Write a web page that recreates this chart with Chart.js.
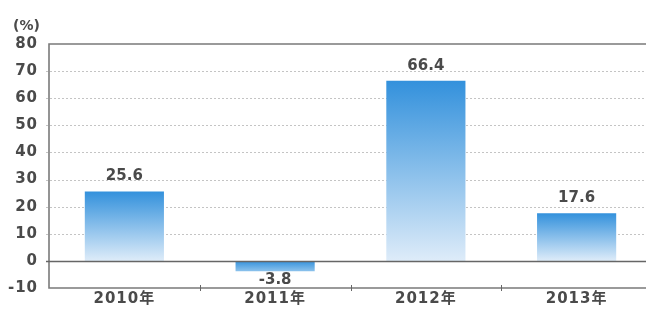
<!DOCTYPE html>
<html>
<head>
<meta charset="utf-8">
<script src="https://cdn.jsdelivr.net/npm/chart.js@4"></script>
<style>
  html, body { margin: 0; padding: 0; background: #fff; overflow: hidden; }
  #wrap { width: 660px; height: 309px; }
</style>
</head>
<body>
<div id="wrap"><canvas id="chart"></canvas></div>
<script>
const years = ['2010年', '2011年', '2012年', '2013年'];
const growth = [25.6, -3.8, 66.4, 17.6];
const yMin = -10;
const yMax = 80;
const yStep = 10;
const unitLabel = '(%)';

const FONT = "'DejaVu Sans', 'Noto Sans CJK JP', sans-serif";
const TEXT = '#4a4a4a';

// gradient per bar, dark at top -> light at bottom
function barFill(ctx) {
  const chart = ctx.chart;
  const area = chart.chartArea;
  if (!area || ctx.type !== 'data') return '#4a9ee0';
  const y = chart.scales.y;
  const v = ctx.raw;
  const top = y.getPixelForValue(Math.max(v, 0));
  const bot = y.getPixelForValue(Math.min(v, 0));
  const g = chart.ctx.createLinearGradient(0, top, 0, bot);
  g.addColorStop(0, '#3391dc');
  g.addColorStop(1, v < 0 ? '#8cc2ec' : '#deecf9');
  return g;
}

const frame = {
  id: 'frame',
  beforeDraw(chart) {
    chart.ctx.letterSpacing = '1px';
  },
  beforeDatasetsDraw(chart) {
    const { ctx, chartArea: a, scales: { y } } = chart;
    ctx.save();
    // dotted grid lines
    for (const t of y.ticks) {
      if (t.value === yMin || t.value === yMax || t.value === 0) continue;
      const py = Math.round(y.getPixelForValue(t.value)) + 0.5;
      ctx.strokeStyle = '#c4c4c4';
      ctx.lineWidth = 1;
      ctx.setLineDash([2, 2]);
      ctx.beginPath();
      ctx.moveTo(a.left - 3, py);
      ctx.lineTo(a.right, py);
      ctx.stroke();
    }
    ctx.setLineDash([]);
    ctx.restore();
  },
  afterDatasetsDraw(chart) {
    const { ctx, chartArea: a, scales: { x, y } } = chart;
    ctx.save();
    ctx.strokeStyle = '#7a7a7a';
    ctx.lineWidth = 1.6;
    ctx.beginPath();
    ctx.moveTo(a.right, a.top);
    ctx.lineTo(a.left, a.top);
    ctx.lineTo(a.left, a.bottom);
    ctx.lineTo(a.right, a.bottom);
    ctx.stroke();
    // zero line
    const z = Math.round(y.getPixelForValue(0)) + 0.5;
    ctx.strokeStyle = '#666';
    ctx.beginPath();
    ctx.moveTo(a.left - 3, z);
    ctx.lineTo(a.right, z);
    ctx.stroke();
    // small ticks between categories
    ctx.lineWidth = 1;
    for (let i = 1; i < years.length; i++) {
      const px = Math.round((x.getPixelForValue(i - 1) + x.getPixelForValue(i)) / 2) + 0.5;
      ctx.beginPath();
      ctx.moveTo(px, a.bottom - 3);
      ctx.lineTo(px, a.bottom + 3);
      ctx.stroke();
    }
    // value labels
    ctx.letterSpacing = '0px';
    ctx.fillStyle = TEXT;
    ctx.font = 'bold 15px ' + FONT;
    ctx.textAlign = 'center';
    ctx.textBaseline = 'middle';
    const meta = chart.getDatasetMeta(0);
    meta.data.forEach((bar, i) => {
      const v = growth[i];
      const off = v >= 0 ? -15 : 9;
      ctx.fillText(v.toFixed(1), bar.x, bar.y + off);
    });
    // unit label
    ctx.textAlign = 'left';
    ctx.font = 'bold 14px ' + FONT;
    ctx.fillText(unitLabel, 13, 26);
    ctx.restore();
  }
};

new Chart(document.getElementById('chart'), {
  type: 'bar',
  data: {
    labels: years,
    datasets: [{
      data: growth,
      backgroundColor: barFill,
      borderWidth: 0,
      barPercentage: 0.525,
      categoryPercentage: 1
    }]
  },
  options: {
    responsive: true,
    maintainAspectRatio: false,
    animation: false,
    layout: { padding: { top: 44, right: 8, left: 0, bottom: 0 } },
    plugins: { legend: { display: false }, tooltip: { enabled: false } },
    scales: {
      x: {
        grid: { display: false, drawTicks: false, tickLength: 0 },
        border: { display: false },
        ticks: { color: TEXT, font: { family: FONT, size: 15, weight: 'bold' }, padding: 2 },
        afterFit(s) { s.height = 21; }
      },
      y: {
        min: yMin,
        max: yMax,
        grid: { display: false, drawTicks: false, tickLength: 0 },
        border: { display: false },
        ticks: {
          stepSize: yStep,
          color: TEXT,
          padding: 11,
          font: { family: FONT, size: 15, weight: 'bold' }
        },
        afterFit(s) { s.width = 49; }
      }
    }
  },
  plugins: [frame]
});
</script>
</body>
</html>
